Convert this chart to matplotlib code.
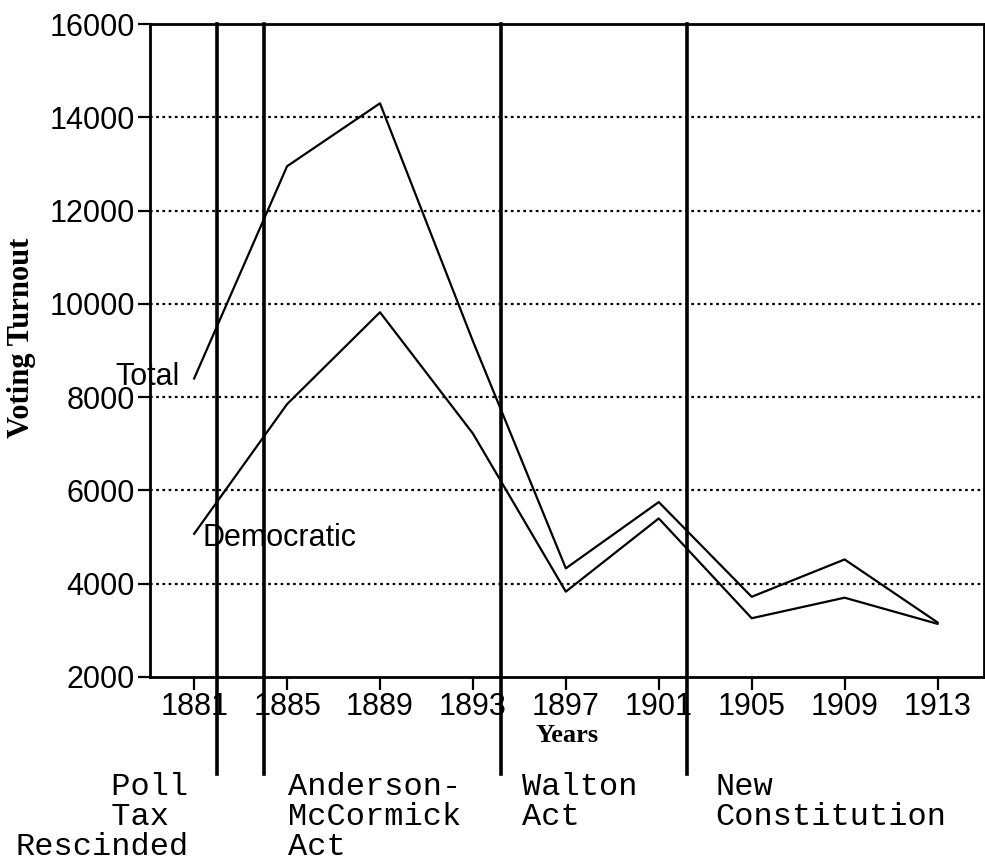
import matplotlib
matplotlib.use("Agg")
import matplotlib.pyplot as plt

# --- data ---
years = [1881, 1885, 1889, 1893, 1897, 1901, 1905, 1909, 1913]
total = [8400, 12950, 14300, 9200, 4330, 5750, 3720, 4520, 3170]
democratic = [5070, 7850, 9820, 7220, 3830, 5400, 3260, 3700, 3140]

event_years = [1882, 1884, 1894.2, 1902.2]
event_labels = ["     Poll\n     Tax\nRescinded",
                "Anderson-\nMcCormick\nAct",
                "Walton\nAct",
                "New\nConstitution"]
label_x_px = [15, 288, 522, 715]   # left edge of each caption, in pixels

yticks = [2000, 4000, 6000, 8000, 10000, 12000, 14000, 16000]

W, H = 985, 867
fig = plt.figure(figsize=(W / 100, H / 100), dpi=100)
ax = fig.add_axes([150 / W, 1 - 677 / H, 834 / W, 653 / H])

sans = "Liberation Sans"
serif = "Liberation Serif"
mono = "Liberation Mono"

# dotted grid lines (inside only)
for v in yticks[1:-1]:
    ax.axhline(v, color="black", lw=1.6, ls=(0, (1.2, 1.6)), zorder=1)

ax.plot(years, total, color="black", lw=1.6, zorder=3)
ax.plot(years, democratic, color="black", lw=1.6, zorder=3)

# series names written next to the line starts (Total hangs over the y labels)
ax.text(1877.6, 8100, "Total", fontsize=22, family=sans, va="bottom", ha="left",
        zorder=4, clip_on=False)
ax.text(1881.35, 4990, "Democratic", fontsize=22, family=sans, va="center", ha="left", zorder=4)

# vertical event lines running below the axes
trans = ax.get_xaxis_transform()
for ey in event_years:
    ax.plot([ey, ey], [-0.148, 1.0], color="black", lw=2.6, transform=trans,
            clip_on=False, zorder=5)

ax.set_xlim(1879.1, 1915.0)
ax.set_ylim(2000, 16000)
ax.set_xticks(years)
ax.set_yticks(yticks)
ax.set_xticklabels([str(y) for y in years], fontsize=22, family=sans)
ax.set_yticklabels([str(v) for v in yticks], fontsize=22, family=sans)
ax.tick_params(axis="both", direction="out", length=9, width=1.6, color="black", pad=2)
for s in ax.spines.values():
    s.set_linewidth(2.0)

ax.set_xlabel("Years", fontsize=19, family=serif, fontweight="bold", labelpad=1)
fig.text(22 / W, 1 - 338 / H, "Voting Turnout", rotation=90, fontsize=22,
         family=serif, fontweight="bold", ha="center", va="center")

for txt, xp in zip(event_labels, label_x_px):
    fig.text(xp / W, 1 - 772 / H, txt, fontsize=23, family=mono, ha="left",
             va="top", linespacing=1.0)

fig.savefig("out.png", dpi=100)
